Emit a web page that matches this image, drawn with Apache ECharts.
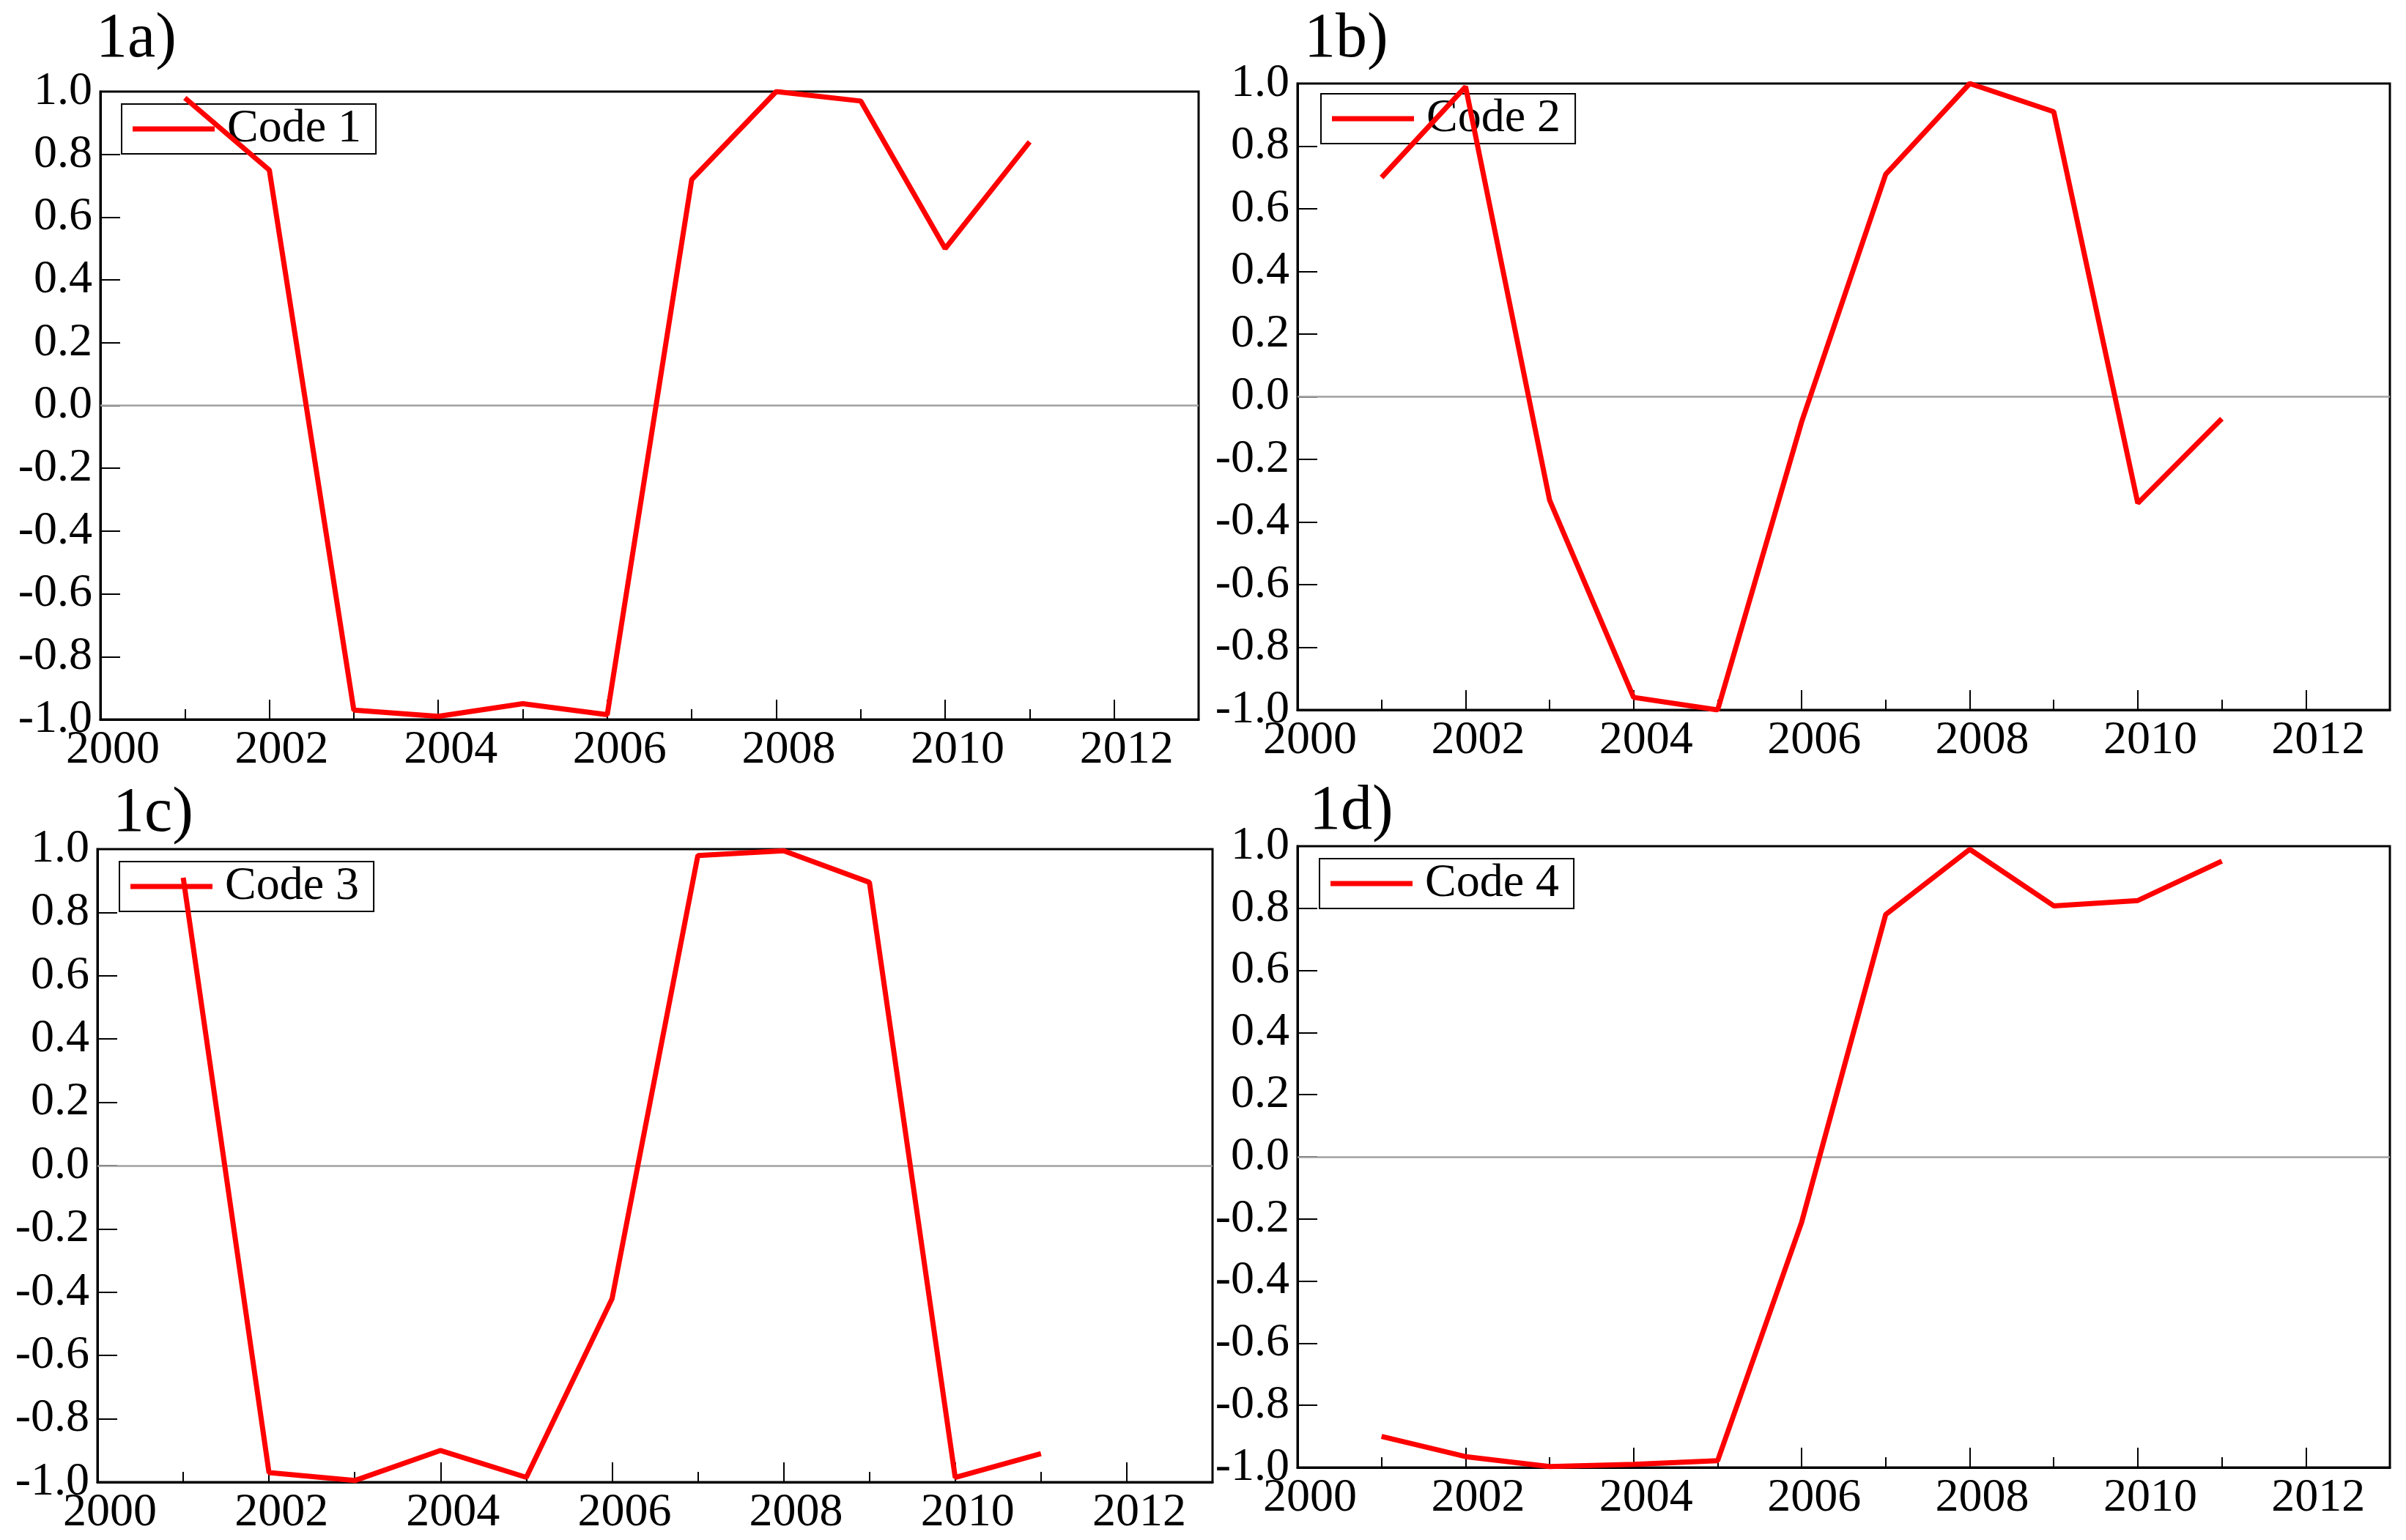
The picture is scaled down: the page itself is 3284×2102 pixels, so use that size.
<!DOCTYPE html>
<html>
<head>
<meta charset="utf-8">
<script src="https://cdn.jsdelivr.net/npm/echarts@6/dist/echarts.min.js"></script>
<style>
html,body{margin:0;padding:0;background:#fff;}
#chart{width:3284px;height:2102px;}
</style>
</head>
<body>
<div id="chart"></div>
<script>
// ---- data ----
var years = [2001, 2002, 2003, 2004, 2005, 2006, 2007, 2008, 2009, 2010, 2011];
var code1 = [0.98, 0.75, -0.97, -0.99, -0.95, -0.985, 0.72, 1.00, 0.97, 0.50, 0.84];
var code2 = [0.70, 0.99, -0.33, -0.96, -1.00, -0.08, 0.71, 1.00, 0.91, -0.34, -0.07];
var code3 = [0.91, -0.97, -0.995, -0.90, -0.985, -0.42, 0.98, 0.995, 0.895, -0.985, -0.91];
var code4 = [-0.90, -0.965, -0.997, -0.99, -0.978, -0.21, 0.78, 0.99, 0.808, 0.825, 0.952];
var seriesNames = ['Code 1', 'Code 2', 'Code 3', 'Code 4'];
var panelTitles = ['1a)', '1b)', '1c)', '1d)'];
var xMin = 2000, xMax = 2013;
var yMin = -1, yMax = 1, yStep = 0.2;

// ---- layout (px) ----
var FONT = '"Liberation Serif", "Times New Roman", serif';
var grids = [
  {left: 137, top: 125, width: 1499, height: 857},
  {left: 1771, top: 114, width: 1491, height: 855},
  {left: 133, top: 1159, width: 1522, height: 864},
  {left: 1771, top: 1155, width: 1491, height: 848}
];
var titlePos = [[131, 11], [1780, 11], [154, 1068], [1787, 1065]];
var legendPos = [[166, 142], [1803, 128], [163, 1176], [1801, 1172]];
var allData = [code1, code2, code3, code4];

var option = {
  animation: false,
  backgroundColor: '#fff',
  title: [], grid: [], xAxis: [], yAxis: [], legend: [], series: []
};

for (var i = 0; i < 4; i++) {
  option.title.push({
    text: panelTitles[i], left: titlePos[i][0], top: titlePos[i][1], padding: 0,
    textStyle: {fontFamily: FONT, fontSize: 86, fontWeight: 'normal', color: '#000'}
  });
  option.grid.push({
    left: grids[i].left, top: grids[i].top, width: grids[i].width, height: grids[i].height,
    show: true, borderColor: '#000', borderWidth: 3, backgroundColor: 'transparent'
  });
  // major x axis (labels, long ticks)
  option.xAxis.push({
    type: 'value', gridIndex: i, min: xMin, max: xMax, interval: 2, position: 'bottom',
    axisLine: {show: true, onZero: false, lineStyle: {color: '#000', width: 3}},
    axisTick: {show: true, inside: true, length: 27, lineStyle: {color: '#000', width: 2}},
    axisLabel: {
      show: true, margin: 10, color: '#000', fontFamily: FONT, fontSize: 64,
      padding: [0, 0, 0, 34],
      formatter: function (v) { return (Math.round(v) % 2 === 0) ? String(Math.round(v)) : ''; }
    },
    splitLine: {show: false}
  });
  // minor x axis (short ticks every year)
  option.xAxis.push({
    type: 'value', gridIndex: i, min: xMin, max: xMax, interval: 1, position: 'bottom',
    axisLine: {show: false, onZero: false},
    axisTick: {show: true, inside: true, length: 14, lineStyle: {color: '#000', width: 2}},
    axisLabel: {show: false},
    splitLine: {show: false}
  });
  option.yAxis.push({
    type: 'value', gridIndex: i, min: yMin, max: yMax, interval: yStep,
    axisLine: {show: true, onZero: false, lineStyle: {color: '#000', width: 3}},
    axisTick: {show: true, inside: true, length: 27, lineStyle: {color: '#000', width: 2}},
    axisLabel: {
      show: true, margin: 11, color: '#000', fontFamily: FONT, fontSize: 64,
      formatter: function (v) { return Math.abs(v) < 1e-9 ? '0.0' : v.toFixed(1); }
    },
    splitLine: {show: false}
  });
  option.legend.push({
    data: [seriesNames[i]], left: legendPos[i][0], top: legendPos[i][1],
    orient: 'horizontal', padding: [2, 20, 2, 15],
    itemWidth: 112, itemHeight: 7, icon: 'rect',
    borderColor: '#000', borderWidth: 2, backgroundColor: 'transparent',
    selectedMode: false, z: 1,
    textStyle: {fontFamily: FONT, fontSize: 64, color: '#000', padding: [0, 0, 0, 12]}
  });
  var pts = [];
  for (var k = 0; k < years.length; k++) pts.push([years[k], allData[i][k]]);
  option.series.push({
    name: seriesNames[i], type: 'line', xAxisIndex: 2 * i, yAxisIndex: i,
    data: pts, showSymbol: false, symbol: 'none', z: 5,
    lineStyle: {color: '#ff0000', width: 7},
    itemStyle: {color: '#ff0000'},
    markLine: {
      silent: true, symbol: ['none', 'none'], animation: false,
      label: {show: false},
      lineStyle: {color: '#a0a0a0', type: 'solid', width: 2.5},
      data: [{yAxis: 0}]
    }
  });
}

var chart = echarts.init(document.getElementById('chart'), null, {renderer: 'canvas'});
chart.setOption(option);
</script>
</body>
</html>
